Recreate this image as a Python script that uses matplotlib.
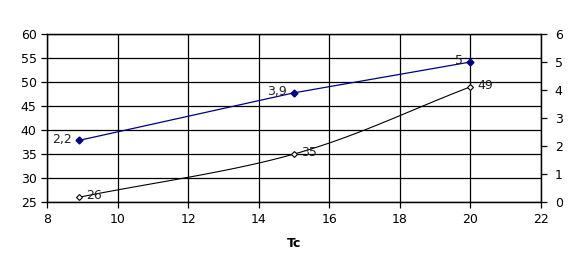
import numpy as np
import matplotlib.pyplot as plt

tc = [8.9, 15, 20]
serie_izq = [26, 35, 49]
serie_der = [2.2, 3.9, 5]
etq_izq = ["26", "35", "49"]
etq_der = ["2,2", "3,9", "5"]


def suavizar(x, y, n=40):
    # curva tipo Catmull-Rom entre los puntos, como la linea suavizada de Excel
    x = np.asarray(x, float)
    y = np.asarray(y, float)
    px = np.concatenate([[2 * x[0] - x[1]], x, [2 * x[-1] - x[-2]]])
    py = np.concatenate([[2 * y[0] - y[1]], y, [2 * y[-1] - y[-2]]])
    xs, ys = [], []
    for i in range(1, len(px) - 2):
        t = np.linspace(0, 1, n)
        for p, out in ((px, xs), (py, ys)):
            p0, p1, p2, p3 = p[i - 1], p[i], p[i + 1], p[i + 2]
            out.extend(0.5 * ((2 * p1) + (-p0 + p2) * t +
                              (2 * p0 - 5 * p1 + 4 * p2 - p3) * t ** 2 +
                              (-p0 + 3 * p1 - 3 * p2 + p3) * t ** 3))
    return np.array(xs), np.array(ys)


plt.rcParams['font.family'] = ['DejaVu Sans']
fig = plt.figure(figsize=(5.76, 2.72), dpi=100)
ax = fig.add_axes([0.0816, 0.257, 0.8576, 0.618])

sx, sy = suavizar(tc, serie_izq)
ax.plot(sx, sy, color='black', lw=0.8, zorder=3)
ax.plot(tc, serie_izq, ls='none', marker='D', ms=3, mfc='white', mec='black',
        mew=0.8, zorder=4)
for x, y, t in zip(tc, serie_izq, etq_izq):
    ax.annotate(t, (x, y), xytext=(5, 1), textcoords='offset points',
                va='center', ha='left', fontsize=9, color='#222222')

ax.set_xlim(8, 22)
ax.set_ylim(25, 60)
ax.set_xticks(np.arange(8, 23, 2))
ax.set_yticks(np.arange(25, 61, 5))
ax.grid(True, color='black', lw=0.9)
ax.set_axisbelow(True)
ax.tick_params(direction='out', length=4, width=0.9, labelsize=9, colors='black')
ax.set_xlabel('Tc', fontsize=9, fontweight='bold', labelpad=8)
for s in ax.spines.values():
    s.set_linewidth(0.9)

ax2 = ax.twinx()
ax2.plot(tc, serie_der, color='#000080', lw=0.9, marker='D', ms=3.5,
         mfc='#000080', mec='#000080', zorder=3)
for x, y, t in zip(tc, serie_der, etq_der):
    ax2.annotate(t, (x, y), xytext=(-5, 1), textcoords='offset points',
                 va='center', ha='right', fontsize=9, color='#222222')
ax2.set_ylim(0, 6)
ax2.set_yticks(np.arange(0, 7, 1))
ax2.tick_params(direction='out', length=4, width=0.9, labelsize=9, pad=6)
for s in ax2.spines.values():
    s.set_linewidth(0.9)

fig.savefig('out.png', dpi=100)
